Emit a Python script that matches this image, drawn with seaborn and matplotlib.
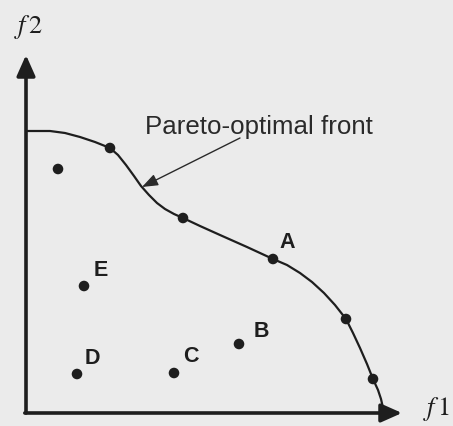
import matplotlib
matplotlib.use("Agg")
import matplotlib.pyplot as plt
import pandas as pd
import seaborn as sns

# Trace of the Pareto-optimal front in objective space (f1, f2)
front_f1 = [0.1, 2.4, 3.9, 5.4, 6.9, 8.4, 9.2, 10.0, 10.8, 11.5, 12.3, 13.1,
            13.9, 14.8, 15.7, 17.4, 19.4, 22.1, 24.7, 26.1, 27.4, 28.6, 29.8,
            30.9, 32.0, 32.7, 33.4, 34.1, 34.7, 35.2, 35.5, 35.7]
front_f2 = [28.2, 28.2, 28.0, 27.6, 27.1, 26.5, 25.8, 24.8, 23.7, 22.7, 21.8,
            21.0, 20.4, 19.9, 19.5, 18.7, 17.8, 16.6, 15.4, 14.8, 14.0, 13.1,
            12.0, 10.8, 9.4, 8.0, 6.5, 4.9, 3.4, 2.3, 1.4, 0.5]

# Non-dominated solutions marked on the front
opt_f1 = [8.4, 15.7, 24.7, 32.0, 34.7]
opt_f2 = [26.5, 19.5, 15.4, 9.4, 3.4]

# Dominated solutions
dom_f1 = [3.2, 5.8, 5.1, 14.8, 21.3]
dom_f2 = [24.4, 12.7, 3.9, 4.0, 6.9]

# Labelled solutions
label_names = ["A", "B", "C", "D", "E"]
label_f1 = [24.7, 21.3, 14.8, 5.1, 5.8]
label_f2 = [15.4, 6.9, 4.0, 3.9, 12.7]
label_offsets = [(10, 12), (16, 9), (12, 12), (11, 11), (12, 11)]

bg = "#ebebeb"
ink = "#1e1e1e"

sns.set_theme(style="white", rc={"figure.facecolor": bg, "axes.facecolor": bg})
plt.rcParams["font.family"] = ["Liberation Sans", "DejaVu Sans"]
plt.rcParams["mathtext.fontset"] = "stix"

fig = plt.figure(figsize=(4.53, 4.26), dpi=100)
ax = fig.add_axes([0, 0, 1, 1])
ax.set_xlim(-2.6, 42.7)
ax.set_ylim(-1.3, 41.3)
ax.set_axis_off()

front = pd.DataFrame({"f1": front_f1, "f2": front_f2})
sns.lineplot(data=front, x="f1", y="f2", sort=False, color=ink, lw=1.6,
             ax=ax, solid_joinstyle="round", solid_capstyle="butt")

pts = pd.DataFrame({"f1": opt_f1 + dom_f1, "f2": opt_f2 + dom_f2})
sns.scatterplot(data=pts, x="f1", y="f2", color=ink, s=58, edgecolor="none",
                ax=ax, zorder=5)

for name, x, y, off in zip(label_names, label_f1, label_f2, label_offsets):
    ax.annotate(name, (x, y), xytext=off, textcoords="offset points",
                ha="center", va="center", fontsize=15.5, fontweight="bold",
                color=ink)

# Objective axes with arrow heads
axis_kw = dict(arrowstyle="-|>,head_length=0.9,head_width=0.4", lw=2.6,
               color=ink, mutation_scale=14, shrinkA=0, shrinkB=0)
ax.annotate("", xy=(0, 35.8), xytext=(0, 0), arrowprops=axis_kw)
ax.annotate("", xy=(37.6, 0), xytext=(-0.12, 0), arrowprops=axis_kw)
ax.text(41.0, 0.4, r"$f\,1$", fontsize=19, ha="center", va="center", color=ink)
ax.text(0.2, 38.6, r"$f\,2$", fontsize=19, ha="center", va="center", color=ink)

# Callout for the front
ax.text(11.9, 27.9, "Pareto-optimal front", fontsize=18.6, ha="left",
        va="baseline", color="#2a2a2a")
ax.annotate("", xy=(11.6, 22.6), xytext=(21.4, 27.5),
            arrowprops=dict(arrowstyle="-|>,head_length=0.8,head_width=0.3",
                            lw=1.0, color="#2a2a2a", mutation_scale=12,
                            shrinkA=0, shrinkB=0))

fig.savefig("out.png", dpi=100, facecolor=bg)
